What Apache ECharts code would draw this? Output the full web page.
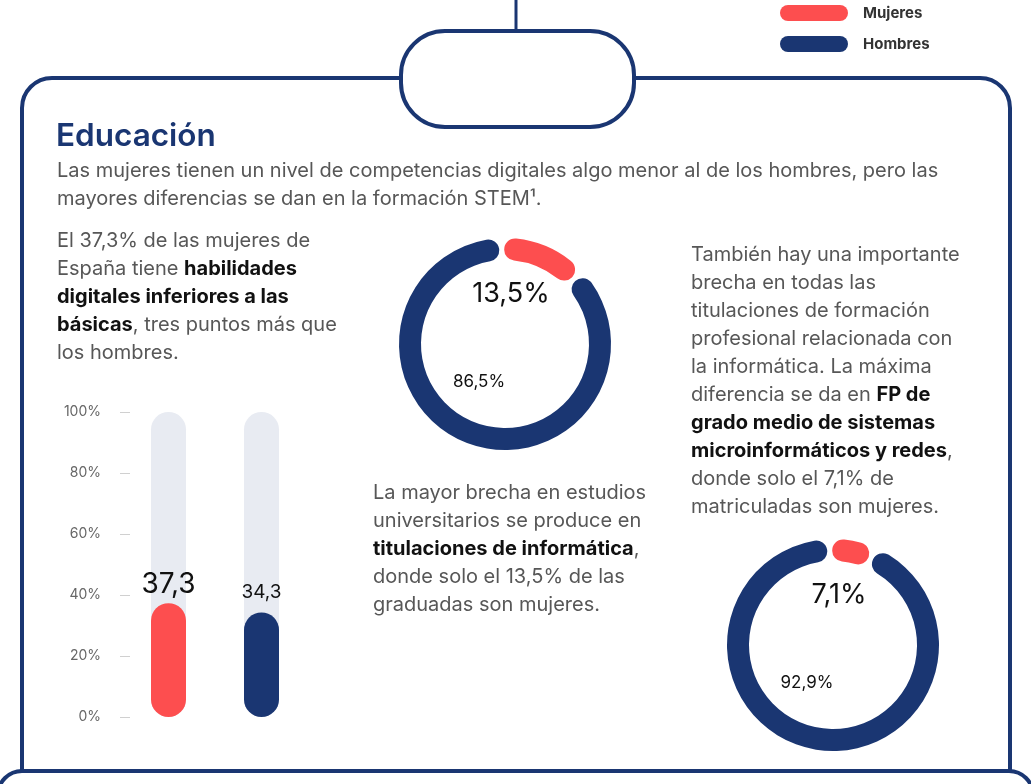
<!DOCTYPE html>
<html>
<head>
<meta charset="utf-8">
<script src="https://cdn.jsdelivr.net/npm/echarts@6/dist/echarts.min.js"></script>
<style>html,body{margin:0;padding:0;background:#fff;}#c{width:1031px;height:784px;}</style>
</head>
<body>
<div id="c"></div>
<script>
// ---- data ----
const groups = ['Mujeres', 'Hombres'];
const basicSkills = [37.3, 34.3];           // % below basic digital skills
const uniInformatica = [13.5, 86.5];        // graduates in informática
const fpSistemas = [7.1, 92.9];             // FP grado medio sistemas
const yTicks = [0, 20, 40, 60, 80, 100];

const titleText = 'Educación';
const introLines = [
  'Las mujeres tienen un nivel de competencias digitales algo menor al de los hombres, pero las',
  'mayores diferencias se dan en la formación STEM¹.'
];
const leftLines = [
  'El 37,3% de las mujeres de',
  'España tiene **habilidades**',
  '**digitales inferiores a las**',
  '**básicas**, tres puntos más que',
  'los hombres.'
];
const midLines = [
  'La mayor brecha en estudios',
  'universitarios se produce en',
  '**titulaciones de informática**,',
  'donde solo el 13,5% de las',
  'graduadas son mujeres.'
];
const rightLines = [
  'También hay una importante',
  'brecha en todas las',
  'titulaciones de formación',
  'profesional relacionada con',
  'la informática. La máxima',
  'diferencia se da en **FP de**',
  '**grado medio de sistemas**',
  '**microinformáticos y redes**,',
  'donde solo el 7,1% de',
  'matriculadas son mujeres.'
];

// ---- styles ----
const RED = '#fd4e4f';
const NAVY = '#1a3672';
const GREY_TXT = '#575757';
const FONT = 'Inter, "Noto Sans", sans-serif';
const colors = [RED, NAVY];
const fmt = v => String(v.toFixed(1)).replace('.', ',');

function richLine(line) {
  const parts = line.split('**');
  return parts.map((p, i) => p ? (i % 2 ? '{b|' + p + '}' : '{n|' + p + '}') : '').join('');
}
const rich = {
  n: {fontFamily: FONT, fontSize: 20, fill: GREY_TXT},
  b: {fontFamily: FONT, fontSize: 20, fontWeight: 'bold', fill: '#111'}
};
function para(lines, x, y0, lh) {
  return lines.map((l, i) => ({
    type: 'text', x: x, y: y0 + i * lh, silent: true,
    style: {text: richLine(l), rich: rich, verticalAlign: 'middle', textVerticalAlign: 'middle'}
  }));
}

const graphics = [
  // top connector line
  {type: 'line', shape: {x1: 516, y1: 0, x2: 516, y2: 32}, style: {stroke: NAVY, lineWidth: 3}},
  // main frame
  {type: 'rect', shape: {x: 22, y: 78, width: 988, height: 800, r: 30},
   style: {fill: null, stroke: NAVY, lineWidth: 4}},
  // next frame
  {type: 'rect', shape: {x: -2, y: 771, width: 1035, height: 120, r: 24},
   style: {fill: '#fff', stroke: NAVY, lineWidth: 4}},
  // pill
  {type: 'rect', shape: {x: 401, y: 31, width: 233, height: 96, r: 44},
   style: {fill: '#fff', stroke: NAVY, lineWidth: 4}},
  // title
  {type: 'text', x: 56, y: 137, style: {text: titleText, font: '600 31.5px ' + FONT, fill: NAVY, textVerticalAlign: 'middle'}}
]
.concat(para(introLines, 57, 171, 28))
.concat(para(leftLines, 57, 241, 28))
.concat(para(midLines, 373, 493, 28))
.concat(para(rightLines, 691, 255, 28));

// donut center labels built from data
function donutLabels(vals, cx, cy) {
  return [
    {type: 'text', x: cx + 6, y: cy - 50, style: {text: fmt(vals[0]) + '%', font: '27px ' + FONT, fill: '#111', textAlign: 'center', textVerticalAlign: 'middle'}},
    {type: 'text', x: cx - 26, y: cy + 38, style: {text: fmt(vals[1]) + '%', font: '17px ' + FONT, fill: '#111', textAlign: 'center', textVerticalAlign: 'middle'}}
  ];
}
const D1 = [505, 344], D2 = [833, 645];
graphics.push(...donutLabels(uniInformatica, D1[0], D1[1]));
graphics.push(...donutLabels(fpSistemas, D2[0], D2[1]));

function donut(vals, center) {
  return {
    type: 'pie', center: center, radius: [84, 106], startAngle: 92, clockwise: true,
    padAngle: 3, silent: true, label: {show: false}, labelLine: {show: false},
    itemStyle: {borderRadius: 12},
    data: vals.map((v, i) => ({name: groups[i], value: v, itemStyle: {color: colors[i]}}))
  };
}

const capsule = 'path://M8,0 H60 A8,8 0 0 1 60,16 H8 A8,8 0 0 1 8,0 Z';

const chart = echarts.init(document.getElementById('c'), null, {renderer: 'canvas'});
chart.setOption({
  backgroundColor: '#fff',
  animation: false,
  legend: {
    orient: 'vertical', left: 780, top: 5, padding: 0, itemWidth: 68, itemHeight: 16, itemGap: 15,
    icon: capsule, selectedMode: false,
    data: groups.map((g, i) => ({name: g, itemStyle: {color: colors[i]}})),
    textStyle: {fontFamily: FONT, fontSize: 15, fontWeight: 'bold', color: '#333', padding: [0, 0, 0, 10]}
  },
  grid: {left: 122, width: 186, top: 412, bottom: 67},
  xAxis: {
    type: 'category', data: groups, show: false
  },
  yAxis: {
    type: 'value', min: 0, max: 100, interval: 20, offset: -8,
    axisLine: {show: false},
    axisTick: {show: true, length: 10, lineStyle: {color: '#d0d0d0'}},
    splitLine: {show: false},
    axisLabel: {formatter: '{value}%', margin: 29, fontFamily: FONT, fontSize: 14, color: '#666', padding: [0, 0, 7, 0]}
  },
  series: [
    {
      type: 'bar', name: 'bars', barWidth: 35, silent: true,
      showBackground: true,
      backgroundStyle: {color: '#e8ebf2', borderRadius: 17.5},
      itemStyle: {borderRadius: 17.5},
      data: basicSkills.map((v, i) => ({
        value: v, itemStyle: {color: colors[i]},
        label: {show: true, position: 'top', distance: i === 0 ? 5 : 11,
          fontFamily: FONT, fontSize: i === 0 ? 28 : 19, color: '#111',
          formatter: p => fmt(p.value)}
      }))
    },
    donut(uniInformatica, D1),
    donut(fpSistemas, D2)
  ],
  graphic: graphics
});
</script>
</body>
</html>
